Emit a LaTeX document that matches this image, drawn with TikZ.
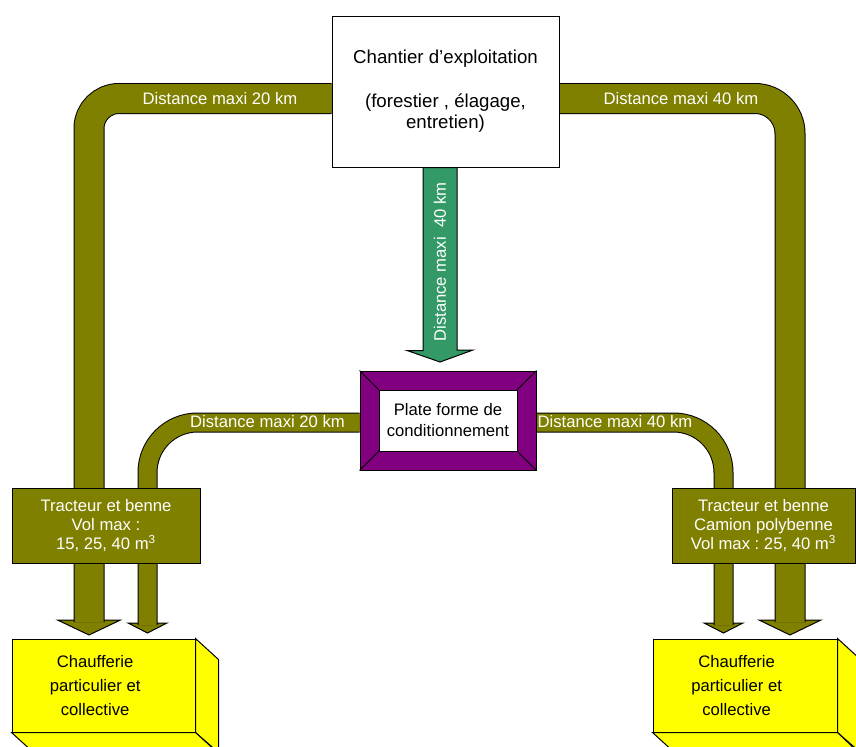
\documentclass[tikz,border=0pt]{standalone}
\usepackage{fontspec}
\setmainfont{Liberation Sans}
\frenchspacing
\usetikzlibrary{positioning,backgrounds}

\definecolor{olivebande}{RGB}{128,128,0}
\definecolor{vertfleche}{RGB}{51,153,102}
\definecolor{violetplate}{RGB}{128,0,128}
\definecolor{jaunechauf}{RGB}{255,255,0}

\begin{document}
\begin{tikzpicture}[x=0.6pt, y=-0.6pt,
  box/.style={draw, line width=0.6pt, rectangle, inner sep=0pt, align=center, font=\fontsize{10}{11.4}\selectfont},
  plainbox/.style={box, fill=white},
  tract/.style={box, fill=olivebande, text=white},
  chauf/.style={box, fill=jaunechauf},
  chauftxt/.style={align=center, inner sep=0pt, font=\fontsize{10}{14.4}\selectfont},
  band/.style={draw=black, line width=0.6pt, double=olivebande, double distance=#1},
  head/.style={draw=black, line width=0.6pt, fill=olivebande, line join=miter},
  garrow/.style={draw=black, line width=0.6pt, fill=vertfleche, line join=miter},
  lbl/.style={text=white, inner sep=0pt, font=\fontsize{10}{12}\selectfont}
]
\useasboundingbox (0,0) rectangle (856,747);
\clip (0,0) rectangle (856,747);

% Boxes
\node[plainbox, minimum width=136.2pt, minimum height=90.6pt,
      font=\fontsize{11.2}{13}\selectfont] (chantier) at (445.5,91.5)
  {Chantier d’exploitation\\[13pt](forestier , élagage,\\entretien)};

\node[box, fill=violetplate, minimum width=105.6pt, minimum height=59.4pt] (plate) at (448,420.5) {};
\node[plainbox, minimum width=82.8pt, minimum height=36.6pt, font=\fontsize{10}{12.6}\selectfont]
  (platein) at (plate) {Plate forme de\\conditionnement};
\foreach \a in {north west, north east, south west, south east}
  \draw[line width=0.6pt] (plate.\a) -- (platein.\a);

\node[tract, minimum width=112.8pt, minimum height=45pt] (tractG) at (106,525.5)
  {Tracteur et benne\\Vol max :\\15, 25, 40 m\textsuperscript{3}};
\node[tract, minimum width=109.8pt, minimum height=45pt] (tractD) at (763.5,525.5)
  {Tracteur et benne\\Camion polybenne\\Vol max : 25, 40 m\textsuperscript{3}};

\node[chauf, minimum width=109.8pt, minimum height=55.8pt] (chaufG) at (103.5,685.5) {};
\node[chauf, minimum width=110.4pt, minimum height=55.8pt] (chaufD) at (745,685.5) {};
\foreach \b in {chaufG, chaufD} {
  \draw[chauf] (\b.north east) -- ++(23,21) -- ++(0,93) -- (\b.south east) -- cycle;
  \draw[chauf] (\b.south west) -- ++(23,21) -- ++(184,0) -- (\b.south east) -- cycle;
}
\node[chauftxt] (chaufGt) at ([xshift=-5pt]chaufG.center) {Chaufferie\\particulier et\\collective};
\node[chauftxt] (chaufDt) at ([xshift=-5pt]chaufD.center) {Chaufferie\\particulier et\\collective};

% Arrow ends
\coordinate (aG1) at (89,620);
\coordinate (aG2) at (147.5,623);
\coordinate (aD2) at (723.5,623);
\coordinate (aD1) at (790,620);
\coordinate (gtip) at (440,362);

\begin{scope}[on background layer]
% Arrow heads
\foreach \c/\hw/\hh in {aG1/31.5/15, aG2/19.5/10, aD2/19.5/10, aD1/31/15}
  \draw[head] (\c) ++(-\hw,0) -- ++(\hw,\hh) -- ++(\hw,-\hh) -- cycle;

% Bands
\draw[band=17.4pt, rounded corners=18pt] ([yshift=-4.2pt]chantier.west) -| ([yshift=-1.2pt]aG1);
\draw[band=17.4pt, rounded corners=21pt] ([yshift=-4.2pt]chantier.east) -| ([yshift=-1.2pt]aD1);
\draw[band=10.8pt, rounded corners=30pt] ([yshift=-1.2pt]plate.west) -| ([yshift=-1.2pt]aG2);
\draw[band=10.8pt, rounded corners=30pt] ([yshift=-1.2pt]plate.east) -| ([yshift=-1.2pt]aD2);
\end{scope}

% Green arrow
\draw[garrow] (chantier.south -| gtip) ++(-17,0) -- ++(0,183) -- ++(-16,0) -- (gtip)
  -- ++(33,-12) -- ++(-16,0) |- (chantier.south) -- cycle;
\node[lbl, rotate=90] (lblV) at (440,262) {Distance maxi\ \ 40 km};

% Labels on bands
\node[lbl] (lblG1) at (220,99) {Distance maxi 20 km};
\node[lbl] (lblD1) at (681,99) {Distance maxi 40 km};
\node[lbl] (lblG2) at (267.5,422) {Distance maxi 20 km};
\node[lbl] (lblD2) at (615,422) {Distance maxi 40 km};

\end{tikzpicture}
\end{document}
